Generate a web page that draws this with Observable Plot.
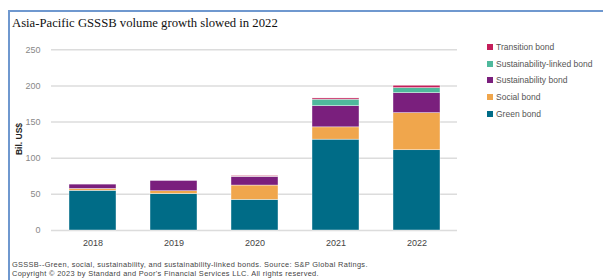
<!DOCTYPE html>
<html><head><meta charset="utf-8">
<script src="https://cdn.jsdelivr.net/npm/d3@7"></script>
<script src="https://cdn.jsdelivr.net/npm/@observablehq/plot@0.6"></script>
<style>
html,body{margin:0;padding:0;background:#fff;}
#wrap{position:relative;width:603px;height:280px;overflow:hidden;font-family:"Liberation Sans",Arial,sans-serif;}
#frame{position:absolute;left:8px;top:10px;width:700px;height:400px;border-left:2px solid #6f98cf;border-top:2px solid #6f98cf;box-sizing:border-box;}
#title{position:absolute;left:12px;top:16px;font-family:"Liberation Serif","Times New Roman",serif;font-size:12.7px;color:#111;white-space:nowrap;}
#ylab{position:absolute;left:19px;top:139px;transform:translate(-50%,-50%) rotate(-90deg);font-size:8.5px;font-weight:bold;color:#222;white-space:nowrap;}
#chart{position:absolute;left:0;top:30px;}
#legend{position:absolute;left:487px;top:39px;font-size:8.5px;color:#555;}
.li{height:16.6px;display:flex;align-items:center;white-space:nowrap;}
.sw{width:6px;height:6px;margin-right:3px;}
#foot{position:absolute;left:12px;top:259.5px;font-size:7.4px;letter-spacing:0.33px;color:#444;line-height:9px;white-space:nowrap;}
</style></head>
<body><div id="wrap">
<div id="frame"></div>
<div id="title">Asia-Pacific GSSSB volume growth slowed in 2022</div>
<div id="chart"></div>
<div id="ylab">Bil. US$</div>
<div id="legend"></div>
<div id="foot">GSSSB--Green, social, sustainability, and sustainability-linked bonds. Source: S&amp;P Global Ratings.<br>Copyright © 2023 by Standard and Poor's Financial Services LLC. All rights reserved.</div>
</div>
<script>
const years = ["2018","2019","2020","2021","2022"];
const seriesNames = ["Green bond","Social bond","Sustainability bond","Sustainability-linked bond","Transition bond"];
const seriesColors = ["#006c87","#f0a64c","#7a1f7d","#4fb99c","#c41e5a"];
const greenBond = [55, 50.5, 42.3, 125.7, 111];
const socialBond = [2.5, 3.8, 19.9, 17, 51.4];
const sustainabilityBond = [6, 14.2, 11.8, 29.3, 27.6];
const slbBond = [0, 0, 0.4, 9, 7];
const transitionBond = [0, 0, 1, 1.7, 3.3];
const yTicks = [0, 50, 100, 150, 200, 250];

const seriesValues = [greenBond, socialBond, sustainabilityBond, slbBond, transitionBond];
const rows = [];
seriesNames.forEach((s, i) => years.forEach((y, j) => rows.push({year: y, series: s, value: seriesValues[i][j]})));

const chart = Plot.plot({
  width: 603, height: 220,
  marginLeft: 51, marginRight: 146, marginTop: 19.3, marginBottom: 20,
  style: {fontFamily: '"Liberation Sans", Arial, sans-serif', background: "transparent", overflow: "visible"},
  x: {domain: years, paddingInner: 0.424, paddingOuter: 0.212, label: null},
  y: {domain: [0, 250], label: null},
  color: {domain: seriesNames, range: seriesColors},
  marks: [
    Plot.gridY(yTicks, {stroke: "#dcdcdc", strokeOpacity: 1, strokeWidth: 1.5}),
    Plot.barY(rows, {x: "year", y: "value", fill: "series", order: seriesNames, stroke: "#ffffff", strokeWidth: 0.5, strokeOpacity: 0.8}),
    Plot.axisY({ticks: yTicks, tickSize: 0, tickPadding: 11, fontSize: 9, fill: "#888", label: null}),
    Plot.axisX({tickSize: 0, tickPadding: 9.5, fontSize: 9, fill: "#444", label: null})
  ]
});
document.getElementById("chart").appendChild(chart);

const leg = document.getElementById("legend");
[...seriesNames].reverse().forEach((s) => {
  const i = seriesNames.indexOf(s);
  const d = document.createElement("div");
  d.className = "li";
  d.innerHTML = `<span class="sw" style="background:${seriesColors[i]}"></span>${s}`;
  leg.appendChild(d);
});
</script>
</body></html>
